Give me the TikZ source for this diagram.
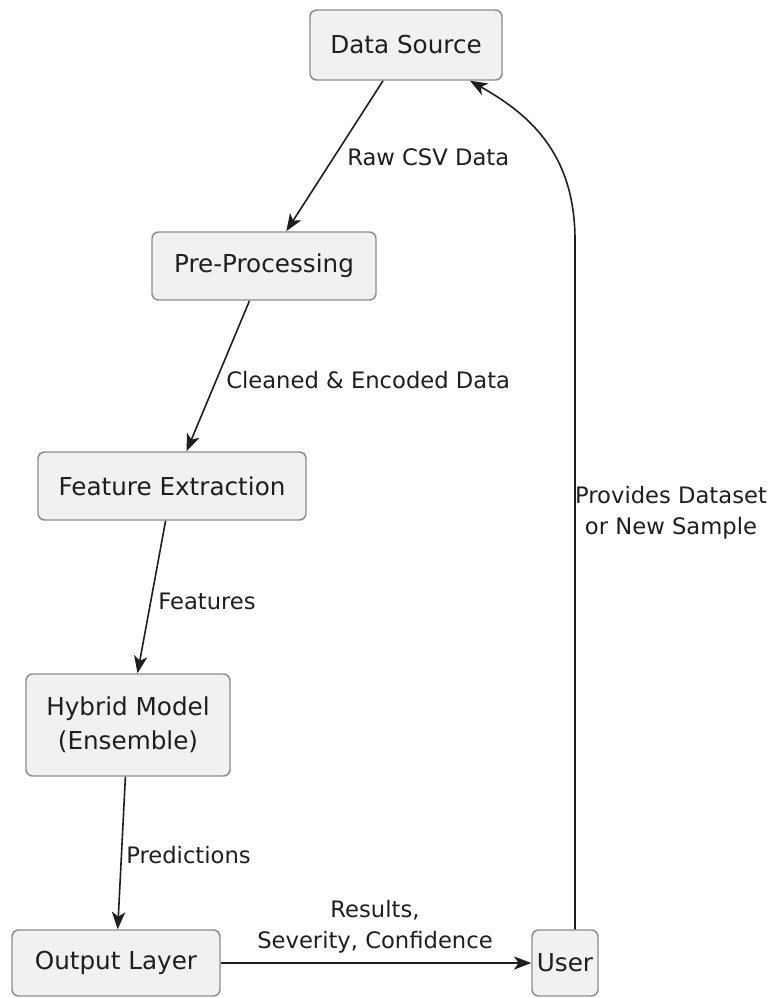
\documentclass[tikz,border=0pt]{standalone}
\usepackage{fontspec}
\setmainfont{DejaVu Sans}
\usetikzlibrary{arrows.meta}
\definecolor{boxfill}{HTML}{F1F1F1}
\definecolor{boxline}{HTML}{8C8C8C}
\definecolor{ink}{HTML}{1E1E1E}
\tikzset{
  stagebox/.style={draw=boxline, fill=boxfill, line width=1.1pt, rounded corners=5pt,
    inner sep=0pt, align=center, text=ink,
    font=\fontsize{18.5}{25.5}\selectfont},
  flow/.style={draw=ink, line width=1.2pt, -{Stealth[length=13pt,width=10pt,inset=3.5pt]}},
  flowlabel/.style={inner sep=0pt, text=ink, align=center,
    font=\fontsize{17}{23}\selectfont}
}
\begin{document}
\begin{tikzpicture}[x=0.75pt,y=-0.75pt]
\useasboundingbox (0,0) rectangle (778,998);

% pipeline stages
\node[stagebox, minimum width=144pt, minimum height=52.5pt] (ds) at (406,45) {Data Source};
\node[stagebox, minimum width=168pt, minimum height=51pt] (pp) at (264,266) {Pre-Processing};
\node[stagebox, minimum width=201pt, minimum height=51pt] (fe) at (172,486) {Feature Extraction};
\node[stagebox, minimum width=153pt, minimum height=76.5pt] (hm) at (128,725) {Hybrid Model\\(Ensemble)};
\node[stagebox, minimum width=156pt, minimum height=49.5pt] (ol) at (116,963) {Output Layer};
\node[stagebox, minimum width=49.5pt, minimum height=49.5pt] (us) at (565,963) {User};

% forward flow
\draw[flow] (ds) -- (pp);
\draw[flow] (pp) -- (fe);
\draw[flow] (fe) -- (hm);
\draw[flow] (hm) -- (ol);
\draw[flow] (ol) -- (us);

% feedback from the user back to the source
\coordinate (usTop) at ([xshift=7.5pt]us.north);
\coordinate (dsIn) at ([xshift=48pt]ds.south);
\draw[flow] (usTop) -- (575,240) .. controls (575,150) and (525,112) .. (dsIn);

% edge labels
\node[flowlabel, anchor=west] (l1) at (347,157) {Raw CSV Data};
\node[flowlabel, anchor=west] (l2) at (226,380) {Cleaned \& Encoded Data};
\node[flowlabel, anchor=west] (l3) at (158,601) {Features};
\node[flowlabel, anchor=west] (l4) at (126,855) {Predictions};
\node[flowlabel] (l5) at (375,927) {Results,\\Severity, Confidence};
\node[flowlabel] (l6) at (671,513) {Provides Dataset\\or New Sample};
\end{tikzpicture}
\end{document}
